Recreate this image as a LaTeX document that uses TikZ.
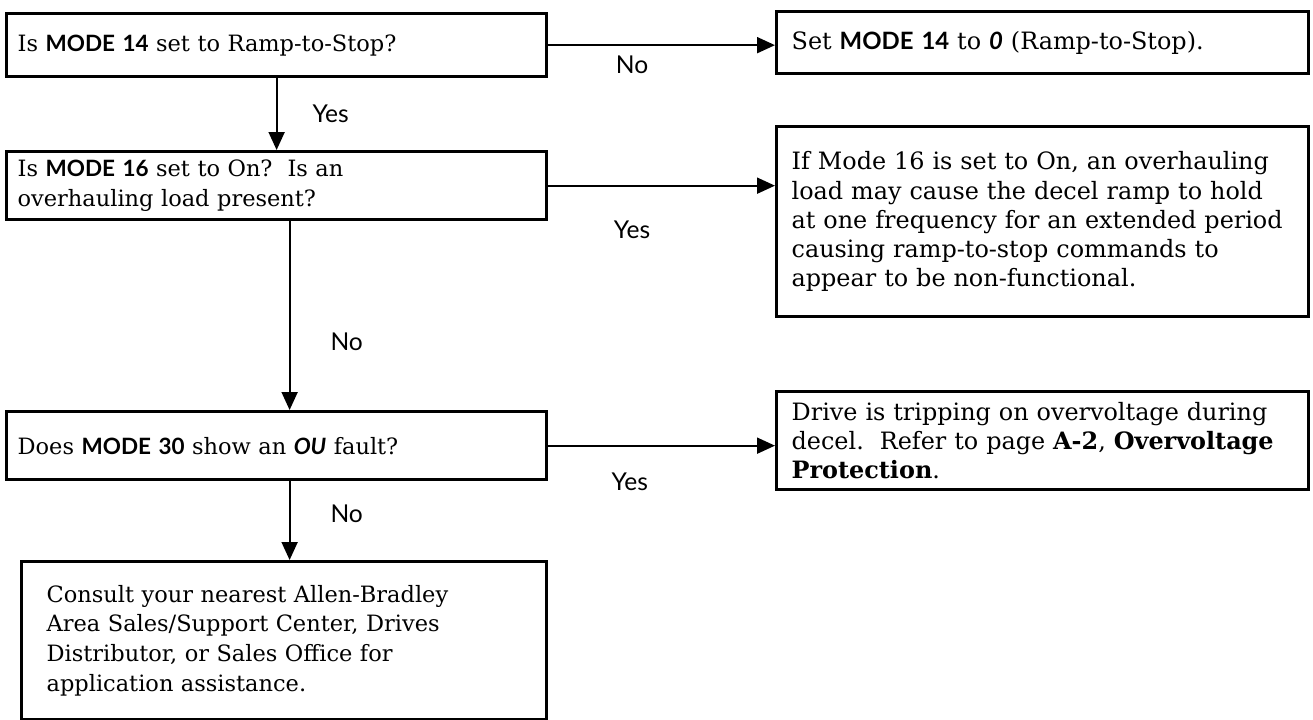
\documentclass[tikz,border=0pt]{standalone}
\usepackage{fontspec}
\setmainfont{DejaVu Serif}
\setsansfont{Lato}
\usetikzlibrary{arrows.meta,positioning}

\newcommand{\md}[1]{{\sffamily\bfseries #1}}

\tikzset{
  box/.style={draw, line width=1.9pt, rectangle, anchor=north west, align=left,
    inner xsep=0.22cm, inner ysep=0pt, font=\fontsize{12.8}{17}\selectfont},
  rbox/.style={box, inner xsep=0.3cm, font=\fontsize{13.6}{16.6}\selectfont},
  ans/.style={font=\sffamily\fontsize{14}{16}\selectfont, inner sep=0pt},
  flow/.style={-{Triangle[length=0.36cm,width=0.32cm]}, line width=1.1pt},
}

\begin{document}
\begin{tikzpicture}[x=0.02cm,y=-0.02cm]
    \useasboundingbox (0,0) rectangle (1313,720);
    % left column
    \node[box, text width=10.36cm, minimum height=1.26cm] (q1) at (5,12)
        {Is \md{MODE 14} set to Ramp-to-Stop?};
    \node[box, text width=10.36cm, minimum height=1.36cm] (q2) at (5,150)
        {Is \md{MODE 16} set to On?\ \ Is an\\ overhauling load present?};
    \node[box, text width=10.36cm, minimum height=1.36cm] (q3) at (5,410)
        {Does \md{MODE 30} show an {\sffamily\bfseries\itshape OU} fault?};
    \node[box, inner xsep=0.5cm, text width=9.5cm, minimum height=3.16cm] (help) at (20,560)
        {Consult your nearest Allen-Bradley\\ Area Sales/Support Center, Drives\\
         Distributor, or Sales Office for\\ application assistance.};
    % right column
    \node[rbox, text width=10.04cm, minimum height=1.24cm] (a1) at (775,10)
        {Set \md{MODE 14} to {\sffamily\bfseries\itshape 0} (Ramp-to-Stop).};
    \node[rbox, text width=10.04cm, minimum height=3.8cm] (a2) at (775,125)
        {If Mode 16 is set to On, an overhauling\\ load may cause the decel ramp to hold\\
         at one frequency for an extended period\\ causing ramp-to-stop commands to\\
         appear to be non-functional.};
    \node[rbox, text width=10.04cm, minimum height=1.96cm] (a3) at (775,390)
        {Drive is tripping on overvoltage during\\ decel.\ \ Refer to page \textbf{A-2}, \textbf{Overvoltage}\\
         \textbf{Protection}.};

    \draw[flow] (q1.east) -- (q1.east -| a1.west)
        node[ans, pos=0.37, below=0.2cm] (n1) {No};
    \draw[flow] (q1.south) -- (q2.north)
        node[ans, pos=0.5, right=0.7cm] (y1) {Yes};
    \draw[flow] (q2.east) -- (q2.east -| a2.west)
        node[ans, pos=0.37, below=0.68cm] (y2) {Yes};
    \draw[flow] ([xshift=0.26cm]q2.south) -- ([xshift=0.26cm]q2.south |- q3.north)
        node[ans, pos=0.64, right=0.8cm] (n2) {No};
    \draw[flow] (q3.east) -- (q3.east -| a3.west)
        node[ans, pos=0.36, below=0.52cm] (y3) {Yes};
    \draw[flow] ([xshift=0.26cm]q3.south) -- ([xshift=0.26cm]q3.south |- help.north)
        node[ans, pos=0.41, right=0.8cm] (n3) {No};
\end{tikzpicture}
\end{document}
